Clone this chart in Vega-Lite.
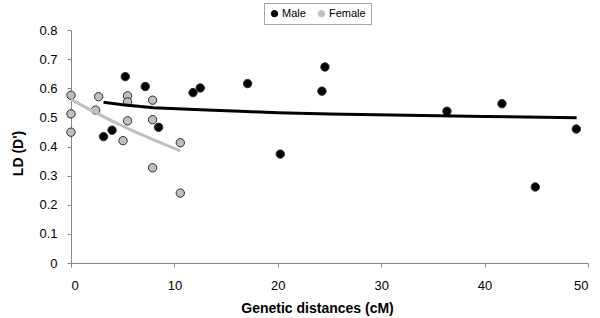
{
  "$schema": "https://vega.github.io/schema/vega-lite/v6.json",
  "width": 517,
  "height": 233,
  "autosize": {"type": "none"},
  "padding": {"left": 71, "top": 30, "right": 12, "bottom": 55},
  "background": "white",
  "config": {
    "font": "Liberation Sans",
    "view": {"stroke": null},
    "axis": {
      "grid": false,
      "domainColor": "#868686",
      "tickColor": "#868686",
      "tickSize": 4,
      "labelColor": "#000000",
      "labelFontSize": 13,
      "titleColor": "#000000",
      "titleFontSize": 14,
      "titleFontWeight": "bold"
    }
  },
  "datasets": {
    "pts": [
      {"x": 0, "ld": 0.576, "sex": "Female"},
      {"x": 0, "ld": 0.512, "sex": "Female"},
      {"x": 0, "ld": 0.449, "sex": "Female"},
      {"x": 2.67, "ld": 0.571, "sex": "Female"},
      {"x": 2.38, "ld": 0.525, "sex": "Female"},
      {"x": 5.47, "ld": 0.574, "sex": "Female"},
      {"x": 5.47, "ld": 0.553, "sex": "Female"},
      {"x": 5.47, "ld": 0.488, "sex": "Female"},
      {"x": 5.03, "ld": 0.42, "sex": "Female"},
      {"x": 7.89, "ld": 0.559, "sex": "Female"},
      {"x": 7.89, "ld": 0.492, "sex": "Female"},
      {"x": 7.89, "ld": 0.327, "sex": "Female"},
      {"x": 10.57, "ld": 0.413, "sex": "Female"},
      {"x": 10.57, "ld": 0.24, "sex": "Female"},
      {"x": 3.15, "ld": 0.434, "sex": "Male"},
      {"x": 3.97, "ld": 0.456, "sex": "Male"},
      {"x": 5.25, "ld": 0.64, "sex": "Male"},
      {"x": 7.18, "ld": 0.606, "sex": "Male"},
      {"x": 8.47, "ld": 0.466, "sex": "Male"},
      {"x": 11.8, "ld": 0.585, "sex": "Male"},
      {"x": 12.5, "ld": 0.601, "sex": "Male"},
      {"x": 17.08, "ld": 0.616, "sex": "Male"},
      {"x": 20.24, "ld": 0.374, "sex": "Male"},
      {"x": 24.56, "ld": 0.673, "sex": "Male"},
      {"x": 24.27, "ld": 0.59, "sex": "Male"},
      {"x": 36.36, "ld": 0.521, "sex": "Male"},
      {"x": 41.68, "ld": 0.547, "sex": "Male"},
      {"x": 44.9, "ld": 0.261, "sex": "Male"},
      {"x": 48.87, "ld": 0.46, "sex": "Male"}
    ],
    "trend": [
      {"x": 3.15, "ld": 0.552, "sex": "Male"},
      {"x": 5, "ld": 0.543, "sex": "Male"},
      {"x": 8, "ld": 0.533, "sex": "Male"},
      {"x": 12.5, "ld": 0.526, "sex": "Male"},
      {"x": 17, "ld": 0.52, "sex": "Male"},
      {"x": 20, "ld": 0.516, "sex": "Male"},
      {"x": 25, "ld": 0.512, "sex": "Male"},
      {"x": 31, "ld": 0.508, "sex": "Male"},
      {"x": 40, "ld": 0.503, "sex": "Male"},
      {"x": 48.9, "ld": 0.499, "sex": "Male"},
      {"x": 0, "ld": 0.562, "sex": "Female"},
      {"x": 2, "ld": 0.523, "sex": "Female"},
      {"x": 4, "ld": 0.487, "sex": "Female"},
      {"x": 6, "ld": 0.454, "sex": "Female"},
      {"x": 8, "ld": 0.423, "sex": "Female"},
      {"x": 10.57, "ld": 0.385, "sex": "Female"}
    ]
  },
  "encoding": {
    "x": {
      "field": "x",
      "type": "quantitative",
      "scale": {"domain": [0, 50], "nice": false, "zero": false},
      "axis": {
        "title": "Genetic distances (cM)",
        "values": [0, 10, 20, 30, 40, 50],
        "labelPadding": 12,
        "titleX": 246,
        "titleY": 49,
        "titleBaseline": "alphabetic",
        "titleAlign": "center"
      }
    },
    "y": {
      "field": "ld",
      "type": "quantitative",
      "scale": {"domain": [0, 0.8], "nice": false},
      "axis": {
        "title": "LD (D')",
        "values": [0, 0.1, 0.2, 0.3, 0.4, 0.5, 0.6, 0.7, 0.8],
        "labelExpr": "datum.value == 0 ? '0' : format(datum.value, '.1f')",
        "labelPadding": 10,
        "titleX": -53,
        "titleY": 123,
        "titleAngle": -90,
        "titleBaseline": "middle",
        "titleAlign": "center"
      }
    }
  },
  "layer": [
    {
      "data": {"name": "pts"},
      "mark": {"type": "point", "shape": "circle", "filled": true, "size": 70, "stroke": "#2a2a2a", "strokeWidth": 1, "opacity": 1},
      "encoding": {
        "fill": {
          "field": "sex",
          "type": "nominal",
          "scale": {"domain": ["Male", "Female"], "range": ["#000000", "#bfbfbf"]},
          "legend": {
            "orient": "none",
            "legendX": 193,
            "legendY": -27,
            "direction": "horizontal",
            "title": null,
            "strokeColor": "#a6a6a6",
            "padding": 5,
            "symbolSize": 40,
            "symbolType": "circle",
            "symbolStrokeColor": "#2a2a2a",
            "symbolStrokeWidth": 1,
            "labelFontSize": 11,
            "labelColor": "#000000",
            "labelOffset": 2,
            "columnPadding": 10
          }
        }
      }
    },
    {
      "data": {"name": "trend"},
      "mark": {"type": "line", "strokeWidth": 3},
      "encoding": {
        "stroke": {
          "field": "sex",
          "type": "nominal",
          "scale": {"domain": ["Male", "Female"], "range": ["#000000", "#bfbfbf"]},
          "legend": null
        }
      }
    }
  ]
}
